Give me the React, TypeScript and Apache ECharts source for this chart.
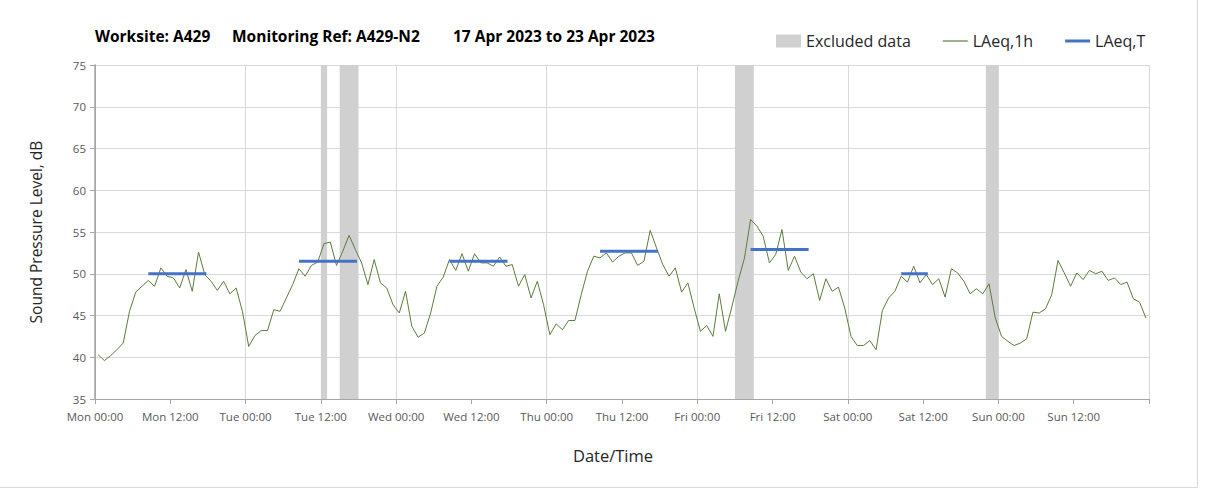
import React, { useEffect, useRef } from "react";
import * as echarts from "echarts";

// Hourly LAeq,1h values (plotted at the middle of each hour, hours since Mon 00:00)
const hourlyLevels: number[] = [
  // Mon
  40.3, 39.6, 40.2, 40.9, 41.7, 45.5, 47.8, 48.5, 49.2, 48.5, 50.7, 49.7, 49.5, 48.3, 50.5, 47.9, 52.6, 49.9, 49.1, 48.0, 49.1, 47.6, 48.3, 45.5,
  // Tue
  41.3, 42.6, 43.2, 43.2, 45.7, 45.5, 47.1, 48.7, 50.6, 49.7, 51.0, 51.4, 53.6, 53.8, 51.0, 52.7, 54.6, 52.9, 51.3, 48.7, 51.7, 48.9, 48.3, 46.3,
  // Wed
  45.3, 47.9, 43.7, 42.4, 42.9, 45.3, 48.5, 49.6, 51.7, 50.4, 52.4, 50.3, 52.4, 51.3, 51.3, 50.9, 52.0, 50.9, 51.1, 48.5, 49.9, 47.1, 49.1, 46.3,
  // Thu
  42.7, 44.0, 43.3, 44.4, 44.4, 47.5, 50.3, 52.1, 51.9, 52.5, 51.4, 52.1, 52.5, 52.5, 51.0, 51.5, 55.2, 53.1, 51.1, 49.7, 50.7, 47.8, 48.9, 45.9,
  // Fri
  43.1, 43.8, 42.5, 47.6, 43.1, 46.0, 49.1, 51.8, 56.5, 55.7, 54.5, 51.3, 52.3, 55.3, 50.4, 52.1, 50.2, 49.4, 50.0, 46.8, 49.4, 47.9, 48.4, 45.9,
  // Sat
  42.5, 41.4, 41.4, 42.0, 40.9, 45.6, 47.1, 47.9, 49.7, 49.0, 50.9, 48.9, 49.9, 48.7, 49.4, 47.2, 50.6, 50.1, 49.1, 47.6, 48.2, 47.6, 48.8, 44.7,
  // Sun
  42.5, 41.9, 41.4, 41.7, 42.2, 45.4, 45.3, 45.8, 47.5, 51.6, 50.1, 48.5, 50.1, 49.3, 50.4, 50.0, 50.3, 49.2, 49.5, 48.7, 49.0, 47.0, 46.6, 44.7,
];

// LAeq,T periods (hours since Mon 00:00)
const periodStart: number[] = [8.5, 32.5, 56.5, 80.5, 104.5, 128.5];
const periodEnd: number[] = [17.75, 41.75, 65.75, 89.75, 113.75, 132.75];
const periodLevels: number[] = [50.0, 51.5, 51.5, 52.7, 52.9, 50.0];

// Excluded data bands (hours since Mon 00:00)
const excludedStart: number[] = [36, 39, 102, 142];
const excludedEnd: number[] = [37, 42, 105, 144];

const dayNames: string[] = ["Mon", "Tue", "Wed", "Thu", "Fri", "Sat", "Sun"];
const titleParts: string[] = ["Worksite: A429", "Monitoring Ref: A429-N2", "17 Apr 2023 to 23 Apr 2023"];

const FONT = "'Open Sans', 'Noto Sans', sans-serif";

export default function App() {
  const ref = useRef<HTMLDivElement>(null);

  useEffect(() => {
    if (!ref.current) return;
    const chart = echarts.init(ref.current, undefined, { renderer: "svg" });

    const titleLefts = [90, 227, 448];

    const option: any = {
      animation: false,
      backgroundColor: "#ffffff",
      textStyle: { fontFamily: FONT },
      title: titleParts.map((t, i) => ({
        text: t,
        left: titleLefts[i],
        top: 23,
        textStyle: { fontSize: 15.5, fontWeight: "bold", color: "#000000", fontFamily: FONT },
      })),
      legend: {
        left: 771,
        top: 28,
        itemWidth: 25,
        itemHeight: 13,
        itemGap: 32,
        textStyle: { fontSize: 16, color: "#262626", fontFamily: FONT },
        data: [
          { name: "Excluded data", icon: "rect", itemStyle: { color: "#d0d0d0" } },
          { name: "LAeq,1h", icon: "path://M0,0H25V1.2H0Z" },
          { name: "LAeq,T", icon: "path://M0,0H25V3H0Z" },
        ],
      },
      graphic: [
        { type: "line", shape: { x1: 1197.5, y1: 0, x2: 1197.5, y2: 487.5 }, style: { stroke: "#d9d9d9", lineWidth: 1 }, silent: true },
        { type: "line", shape: { x1: 0, y1: 487.5, x2: 1197.5, y2: 487.5 }, style: { stroke: "#d9d9d9", lineWidth: 1 }, silent: true },
      ],
      grid: { left: 95, right: 59, top: 65, bottom: 93 },
      xAxis: [
        {
          type: "value",
          min: 0,
          max: 168,
          interval: 12,
          name: "Date/Time",
          nameLocation: "middle",
          nameGap: 48,
          nameTextStyle: { fontSize: 16.5, color: "#262626", fontFamily: FONT, padding: [0, 18, 0, 0] },
          axisLine: { show: true, lineStyle: { color: "#a6a6a6", width: 1 } },
          axisTick: { show: true, length: 5, lineStyle: { color: "#a6a6a6" } },
          splitLine: { show: false },
          axisLabel: {
            fontSize: 11.5,
            color: "#595959",
            margin: 11,
            fontFamily: FONT,
            formatter: (v: number) => {
              if (v >= 168) return "";
              const d = Math.floor(v / 24);
              const h = v % 24;
              return dayNames[d] + " " + (h === 0 ? "00:00" : "12:00");
            },
          },
        },
        {
          type: "value",
          min: 0,
          max: 168,
          interval: 24,
          position: "top",
          axisLine: { show: false },
          axisTick: { show: false },
          axisLabel: { show: false },
          splitLine: { show: true, lineStyle: { color: "#d9d9d9", width: 1 } },
        },
      ],
      yAxis: [
        {
          type: "value",
          min: 35,
          max: 75,
          interval: 5,
          name: "Sound Pressure Level, dB",
          nameLocation: "middle",
          nameGap: 51,
          nameRotate: 90,
          nameTextStyle: { fontSize: 15.5, color: "#262626", fontFamily: FONT },
          axisLine: { show: true, lineStyle: { color: "#a6a6a6", width: 1 } },
          axisTick: { show: true, length: 5, lineStyle: { color: "#a6a6a6" } },
          axisLabel: { fontSize: 11.5, color: "#595959", margin: 9, fontFamily: FONT },
          splitLine: { show: true, lineStyle: { color: "#d9d9d9", width: 1 } },
        },
        {
          type: "value",
          min: 35,
          max: 75,
          interval: 5,
          position: "right",
          axisLine: { show: true, lineStyle: { color: "#a6a6a6", width: 1.5 } },
          axisTick: { show: false },
          axisLabel: { show: false },
          splitLine: { show: false },
        },
      ],
      series: [
        {
          name: "Excluded data",
          type: "custom",
          xAxisIndex: 0,
          yAxisIndex: 0,
          itemStyle: { color: "#d0d0d0" },
          data: excludedStart.map((s, i) => [s, excludedEnd[i]]),
          encode: { x: [0, 1] },
          z: 1,
          renderItem: (params: any, api: any) => {
            const p0 = api.coord([api.value(0), 75]);
            const p1 = api.coord([api.value(1), 35]);
            return {
              type: "rect",
              shape: { x: p0[0], y: p0[1], width: p1[0] - p0[0], height: p1[1] - p0[1] },
              style: { fill: "#d0d0d0" },
            };
          },
          silent: true,
        },
        {
          name: "LAeq,1h",
          type: "line",
          xAxisIndex: 0,
          yAxisIndex: 0,
          data: hourlyLevels.map((v, i) => [i + 0.5, v]),
          showSymbol: false,
          symbol: "none",
          color: "#5a7d3c",
          lineStyle: { color: "#5a7d3c", width: 1 },
          z: 3,
        },
        ...periodLevels.map((v, i) => ({
          name: "LAeq,T",
          type: "line",
          xAxisIndex: 0,
          yAxisIndex: 0,
          data: [
            [periodStart[i], v],
            [periodEnd[i], v],
          ],
          showSymbol: false,
          symbol: "none",
          color: "#4472c4",
          lineStyle: { color: "#4472c4", width: 3 },
          z: 4,
        })),
      ],
    };

    chart.setOption(option);
    return () => {
      chart.dispose();
    };
  }, []);

  return (
    <div
      ref={ref}
      style={{ position: "absolute", left: 0, top: 0, width: 1208, height: 492 }}
    />
  );
}
